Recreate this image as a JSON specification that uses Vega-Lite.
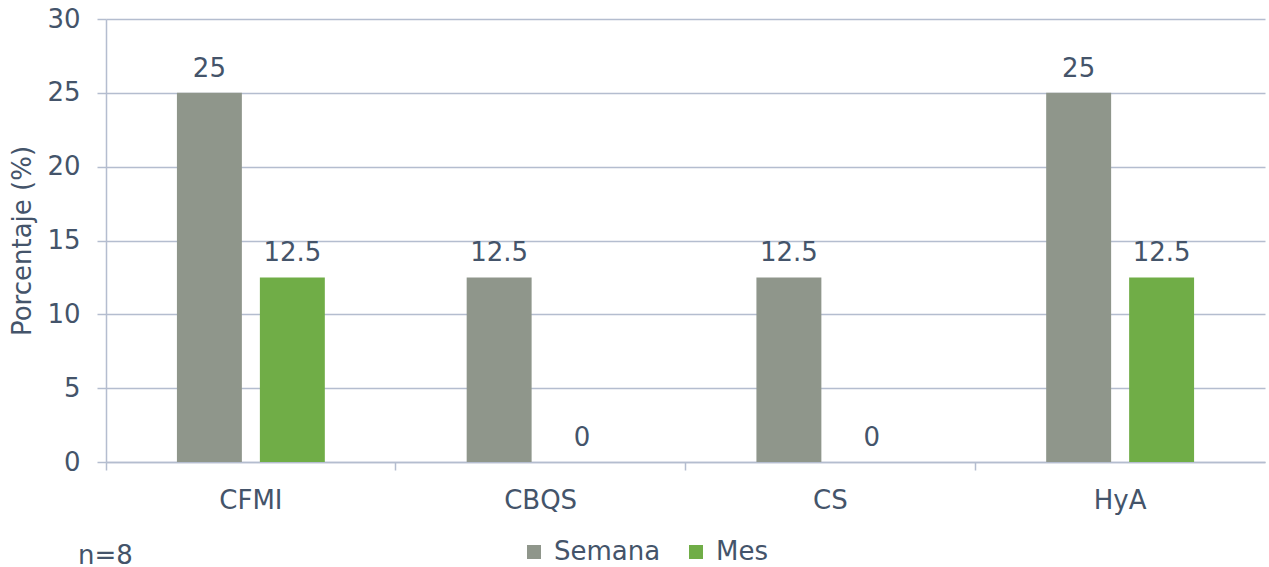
{
  "$schema": "https://vega.github.io/schema/vega-lite/v6.json",
  "width": 1159,
  "height": 443,
  "autosize": {"type": "none"},
  "padding": {"left": 106, "top": 19, "right": 4, "bottom": 105},
  "background": "white",
  "config": {
    "font": "DejaVu Sans",
    "view": {"stroke": null},
    "axis": {"labelFont": "DejaVu Sans", "labelColor": "#44546A", "titleColor": "#44546A", "domainColor": "#B4BDCF", "tickColor": "#B4BDCF", "gridColor": "#B4BDCF", "labelFontSize": 26, "titleFontSize": 26, "titleFontWeight": "normal", "domainWidth": 1.5, "gridWidth": 1.5, "tickWidth": 1.5}
  },
  "title": {"text": "n=8", "orient": "bottom", "anchor": "start", "frame": "group", "dx": -28, "offset": -22, "fontSize": 26, "fontWeight": "normal", "color": "#44546A", "font": "DejaVu Sans"},
  "data": {
    "values": [
      {"grupo": "CFMI", "periodo": "Semana", "valor": 25},
      {"grupo": "CFMI", "periodo": "Mes", "valor": 12.5},
      {"grupo": "CBQS", "periodo": "Semana", "valor": 12.5},
      {"grupo": "CBQS", "periodo": "Mes", "valor": 0},
      {"grupo": "CS", "periodo": "Semana", "valor": 12.5},
      {"grupo": "CS", "periodo": "Mes", "valor": 0},
      {"grupo": "HyA", "periodo": "Semana", "valor": 25},
      {"grupo": "HyA", "periodo": "Mes", "valor": 12.5}
    ]
  },
  "encoding": {
    "x": {"field": "grupo", "type": "nominal", "sort": ["CFMI", "CBQS", "CS", "HyA"], "scale": {"paddingInner": 0, "paddingOuter": 0},
      "axis": {"title": null, "labelAngle": 0, "bandPosition": 0, "tickSize": 8, "labelPadding": 17, "grid": false}},
    "xOffset": {"field": "periodo", "sort": ["Semana", "Mes"], "scale": {"paddingInner": 0.217, "paddingOuter": 0.855}},
    "y": {"field": "valor", "type": "quantitative", "scale": {"domain": [0, 30]},
      "axis": {"title": "Porcentaje (%)", "values": [0, 5, 10, 15, 20, 25, 30], "tickSize": 9, "labelPadding": 17, "titlePadding": 11, "grid": true}}
  },
  "layer": [
    {
      "mark": {"type": "bar"},
      "encoding": {
        "color": {"field": "periodo", "type": "nominal", "sort": ["Semana", "Mes"],
          "scale": {"domain": ["Semana", "Mes"], "range": ["#8F968B", "#70AD47"]},
          "legend": {"title": null, "orient": "none", "direction": "horizontal", "legendX": 415, "legendY": 520, "symbolType": "square", "symbolSize": 196, "symbolStrokeWidth": 0, "labelFontSize": 26, "labelColor": "#44546A", "labelFont": "DejaVu Sans", "labelOffset": 7, "columnPadding": 22}}
      }
    },
    {
      "mark": {"type": "text", "baseline": "alphabetic", "dy": -16, "fontSize": 26, "color": "#44546A"},
      "encoding": {"text": {"field": "valor", "type": "quantitative"}}
    }
  ]
}
